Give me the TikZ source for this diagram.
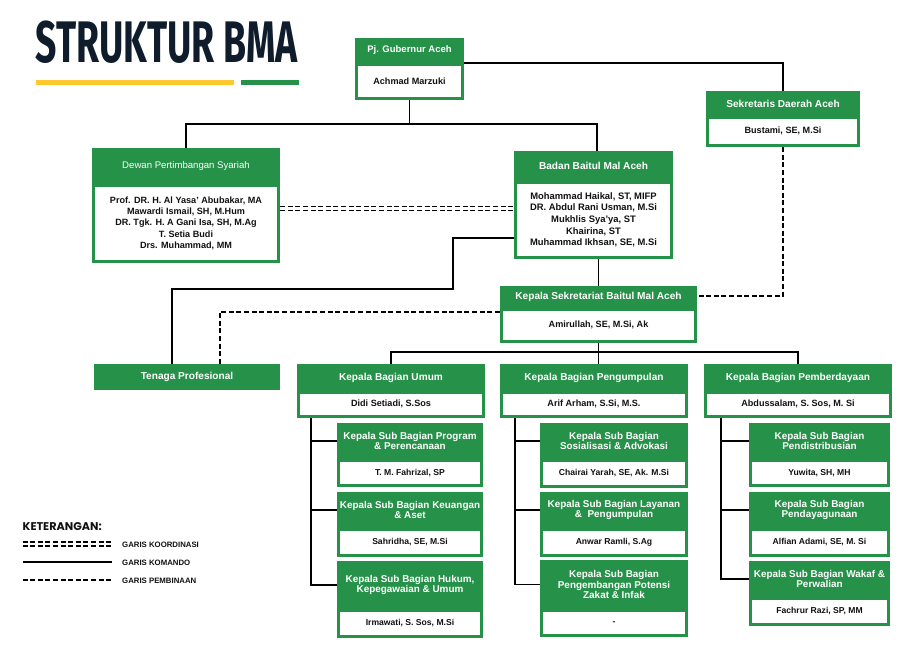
\documentclass[tikz,border=0pt]{standalone}
\usepackage{fontspec}
\setmainfont{Liberation Sans}
\newfontfamily\titlefont{Fira Sans}
\newfontfamily\legfont{Poppins}
\usetikzlibrary{fit,calc}
\definecolor{bmagreen}{RGB}{38,145,72}
\definecolor{bmayellow}{RGB}{254,200,46}
\definecolor{bmanavy}{RGB}{14,28,43}
\definecolor{bmatext}{RGB}{17,17,17}

\tikzset{
  cardbg/.style={fill=bmagreen, inner sep=0pt, draw=none},
  area/.style={inner sep=0pt, draw=none},
  hdrarea/.style={inner sep=0pt, text=white, align=center, font=\fontsize{10.1}{11}\selectfont\bfseries},
  gubhdr/.style={hdrarea, font=\fontsize{9.5}{11}\selectfont\bfseries},
  subhdr/.style={hdrarea, font=\fontsize{9.9}{10.3}\selectfont\bfseries},
  lighthdr/.style={hdrarea, font=\fontsize{9.6}{11}\selectfont},
  bodyfont/.style={font=\fontsize{9.1}{11.3}\selectfont\bfseries},
  bodybox/.style={fill=white, inner sep=0pt},
  bodytext/.style={inner sep=0pt, align=center, text=bmatext, bodyfont},
  komando/.style={line width=1.7pt, draw=black},
  pembinaan/.style={line width=1.7pt, draw=black, dash pattern=on 5pt off 2.6pt},
  koordinasi/.style={line width=1.5pt, draw=black, double=white, double distance=2.6pt, dash pattern=on 5pt off 2.6pt},
  legtext/.style={anchor=west, inner sep=0pt, text=bmatext, font=\fontsize{7.8}{8}\selectfont\bfseries},
}

% #1 name, #2 x1, #3 y1, #4 x2, #5 y2, #6 header bottom, #7 header style, #8 header, #9 body
\newcommand{\bmacard}[9]{%
  \node[cardbg, fit={(#2,#3) (#4,#5)}] (#1) {};
  \node[area, fit={(#2,#3) (#4,#6)}] (#1-h) {};
  \node[#7] (#1-ht) at (#1-h.center) {#8};
  \node[bodybox, fit={({#2+2.8},{#6+2.5}) ({#4-2.8},{#5-2.8})}] (#1-b) {};
  \node[bodytext] (#1-bt) at (#1-b.center) {#9};
}

\begin{document}
\begin{tikzpicture}[x=1pt, y=-1pt]
\useasboundingbox (0,0) rectangle (911,657);
\fill[white] (0,0) rectangle (911,657);

% title
\node[anchor=north west, inner sep=0pt, text=bmanavy] (title) at (35.7,20.7)
  {\resizebox{262pt}{41.6pt}{\titlefont\bfseries STRUKTUR BMA}};
\fill[bmayellow] (35.7,80.3) rectangle (234,84.7);
\fill[bmagreen] (240.7,80.3) rectangle (299,84.7);

% cards
\bmacard{gub}{355}{38}{464}{100}{63}{gubhdr}{Pj. Gubernur Aceh}{Achmad Marzuki}
\bmacard{sekda}{706}{91}{860}{147}{116}{hdrarea}{Sekretaris Daerah Aceh}{Bustami, SE, M.Si}
\bmacard{dewan}{92}{148}{280}{263}{184}{lighthdr}{Dewan Pertimbangan Syariah}
  {Prof. DR. H. Al Yasa' Abubakar, MA\\Mawardi Ismail, SH, M.Hum\\DR. Tgk. H. A Gani Isa, SH, M.Ag\\T. Setia Budi\\Drs. Muhammad, MM}
\tikzset{bodyfont/.style={font=\fontsize{9.4}{11.6}\selectfont\bfseries}}
\bmacard{badan}{514}{151}{673}{259}{181}{hdrarea}{Badan Baitul Mal Aceh}
  {Mohammad Haikal, ST, MIFP\\DR. Abdul Rani Usman, M.Si\\Mukhlis Sya'ya, ST\\Khairina, ST\\Muhammad Ikhsan, SE, M.Si}
\tikzset{bodyfont/.style={font=\fontsize{9.1}{11.3}\selectfont\bfseries}}
\bmacard{kepsek}{500}{286}{697}{342.5}{308.5}{hdrarea}{Kepala Sekretariat Baitul Mal Aceh}{Amirullah, SE, M.Si, Ak}
\node[cardbg, fit={(94,364) (280,390)}] (tenaga) {};
\node[hdrarea] (tenaga-t) at (tenaga.center) {Tenaga Profesional};
\bmacard{umum}{297}{364}{485}{418}{391}{hdrarea}{Kepala Bagian Umum}{Didi Setiadi, S.Sos}
\bmacard{pengum}{500}{364}{688}{418}{391}{hdrarea}{Kepala Bagian Pengumpulan}{Arif Arham, S.Si, M.S.}
\bmacard{pember}{704}{364}{892}{418}{391}{hdrarea}{Kepala Bagian Pemberdayaan}{Abdussalam, S. Sos, M. Si}

\tikzset{bodyfont/.style={font=\fontsize{8.6}{10}\selectfont\bfseries}}
\bmacard{us1}{337}{423}{483}{487}{459}{subhdr}{Kepala Sub Bagian Program\\\& Perencanaan}{T. M. Fahrizal, SP}
\bmacard{us2}{337}{492}{483}{557}{528}{subhdr}{Kepala Sub Bagian Keuangan\\\& Aset}{Sahridha, SE, M.Si}
\bmacard{us3}{337}{561}{483}{638}{609}{subhdr}{Kepala Sub Bagian Hukum,\\Kepegawaian \& Umum}{Irmawati, S. Sos, M.Si}

\bmacard{pg1}{540}{423}{688}{488}{459}{subhdr}{Kepala Sub Bagian\\Sosialisasi \& Advokasi}{Chairai Yarah, SE, Ak. M.Si}
\bmacard{pg2}{540}{492}{688}{557}{528}{subhdr}{Kepala Sub Bagian Layanan\\\&~ Pengumpulan}{Anwar Ramli, S.Ag}
\bmacard{pg3}{540}{560}{688}{637}{609}{subhdr}{Kepala Sub Bagian\\Pengembangan Potensi\\Zakat \& Infak}{-}

\bmacard{pb1}{749}{423}{890}{487}{459}{subhdr}{Kepala Sub Bagian\\Pendistribusian}{Yuwita, SH, MH}
\bmacard{pb2}{749}{492}{890}{557}{528}{subhdr}{Kepala Sub Bagian\\Pendayagunaan}{Alfian Adami, SE, M. Si}
\bmacard{pb3}{749}{561}{890}{626}{597}{subhdr}{Kepala Sub Bagian Wakaf \&\\Perwalian}{Fachrur Razi, SP, MM}

% connectors
\draw[komando] ([yshift=6pt]gub.east) -| (sekda.north);
\draw[komando] (gub.south) -- ++(0,24) coordinate (j1);
\draw[komando] (dewan.north) |- (j1) -| ([xshift=-1.5pt]badan.north -| kepsek.north);
\draw[komando] (badan.south -| kepsek.north) -- (kepsek.north);
\draw[koordinasi] ([yshift=-3pt]dewan.east) -- ([yshift=-3pt]dewan.east -| badan.west);
\coordinate (bend1) at (452.7,289);
\draw[komando] ([yshift=-33pt]badan.west) -| (bend1) -| ([xshift=-15pt]tenaga.north);
\draw[pembinaan] ([yshift=2.5pt]kepsek.west) -| ([xshift=33pt]tenaga.north);
\draw[pembinaan] (sekda.south) |- ([yshift=18.5pt]kepsek.east);
\draw[komando] (kepsek.south) -- ++(0,9) coordinate (j2);
\draw[komando] (umum.north) |- (j2) -| (pember.north);
\draw[komando] (j2) -- (j2 |- pengum.north);

\coordinate (sU) at ([xshift=14pt]umum.south west);
\draw[komando] (sU) |- (us3-h.west);
\draw[komando] (us1-h.west) -- (us1-h.west -| sU);
\draw[komando] (us2-h.west) -- (us2-h.west -| sU);
\coordinate (sG) at ([xshift=15pt]pengum.south west);
\draw[komando] (sG) |- (pg3-h.west);
\draw[komando] (pg1-h.west) -- (pg1-h.west -| sG);
\draw[komando] (pg2-h.west) -- (pg2-h.west -| sG);
\coordinate (sB) at ([xshift=17pt]pember.south west);
\draw[komando] (sB) |- (pb3-h.west);
\draw[komando] (pb1-h.west) -- (pb1-h.west -| sB);
\draw[komando] (pb2-h.west) -- (pb2-h.west -| sB);

% legend
\node[anchor=west, inner sep=0pt, text=bmatext] (ket) at (22.5,527)
  {\resizebox{79pt}{!}{\legfont\bfseries KETERANGAN:}};
\coordinate (lk1) at (22.5,544);  \coordinate (lk2) at (112,544);
\coordinate (lm1) at (22.5,562.3);\coordinate (lm2) at (112,562.3);
\coordinate (lp1) at (22.5,580.3);\coordinate (lp2) at (112,580.3);
\draw[koordinasi] (lk1) -- (lk2);
\draw[komando] (lm1) -- (lm2);
\draw[pembinaan] (lp1) -- (lp2);
\node[legtext] (lkt) at (122,544.5) {GARIS KOORDINASI};
\node[legtext] (lmt) at (122,562.5) {GARIS KOMANDO};
\node[legtext] (lpt) at (122,580.5) {GARIS PEMBINAAN};
\end{tikzpicture}
\end{document}
